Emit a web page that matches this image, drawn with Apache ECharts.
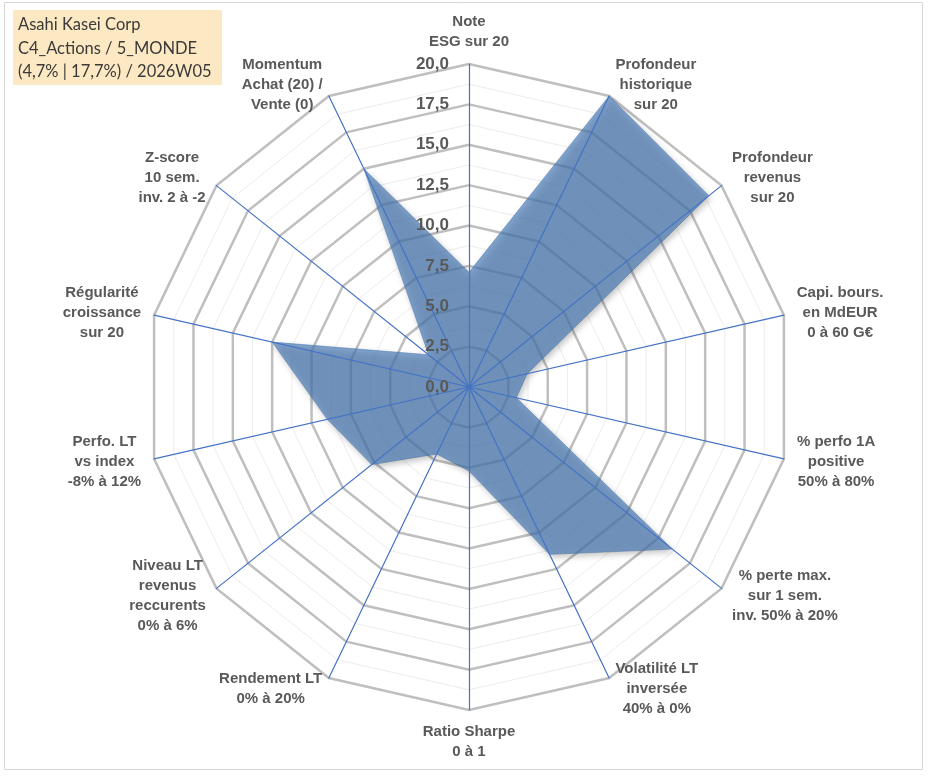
<!DOCTYPE html>
<html>
<head>
<meta charset="utf-8">
<script src="https://cdn.jsdelivr.net/npm/echarts@6/dist/echarts.min.js"></script>
<style>
html, body { margin: 0; padding: 0; background: #fff; }
#chart { width: 933px; height: 776px; }
</style>
</head>
<body>
<div id="chart"></div>
<script>
// axes, clockwise from the top
var axisNames = [
    'Note\nESG sur 20',
    'Profondeur\nhistorique\nsur 20',
    'Profondeur\nrevenus\nsur 20',
    'Capi. bours.\nen MdEUR\n0 à 60 G€',
    '% perfo 1A\npositive\n50% à 80%',
    '% perte max.\nsur 1 sem.\ninv. 50% à 20%',
    'Volatilité LT\ninversée\n40% à 0%',
    'Ratio Sharpe\n0 à 1',
    'Rendement LT\n0% à 20%',
    'Niveau LT\nrevenus\nreccurents\n0% à 6%',
    'Perfo. LT\nvs index\n-8% à 12%',
    'Régularité\ncroissance\nsur 20',
    'Z-score\n10 sem.\ninv. 2 à -2',
    'Momentum\nAchat (20) /\nVente (0)'
];
var scores = [7.1, 20, 19.0, 3.7, 3.0, 16.1, 11.5, 5.2, 4.6, 7.7, 9.0, 12.5, 3.2, 15.0];
var titleLines = ['Asahi Kasei Corp', 'C4_Actions / 5_MONDE', '(4,7% | 17,7%) / 2026W05'];
var scaleMin = 0, scaleMax = 20, scaleStep = 2.5;

var chart = echarts.init(document.getElementById('chart'));

// echarts radar runs counter-clockwise, so keep the first axis and reverse the rest
var order = [0];
for (var i = axisNames.length - 1; i > 0; i--) order.push(i);

var sansFamily = 'Liberation Sans';
var ctx = document.createElement('canvas').getContext('2d');
ctx.font = 'bold 15px "' + sansFamily + '"';
var rich = {};
var indicators = order.map(function (k) {
    var w = 0;
    axisNames[k].split('\n').forEach(function (l) { w = Math.max(w, ctx.measureText(l).width); });
    rich['w' + k] = {
        width: Math.ceil(w) + 2, align: 'center', lineHeight: 20,
        fontSize: 15, fontWeight: 'bold', color: '#595959', fontFamily: sansFamily
    };
    return { name: axisNames[k], min: scaleMin, max: scaleMax, key: k };
});
var values = order.map(function (k) { return scores[k]; });

var center = [469, 387];
var radius = 323;
var fmt = function (v) { return v.toFixed(1).replace('.', ','); };

option = {
    backgroundColor: '#fff',
    animation: false,
    graphic: [
        { type: 'rect', shape: { x: 4.5, y: 2.5, width: 918, height: 767 },
          style: { fill: 'none', stroke: '#d6d6d6', lineWidth: 1 } },
        { type: 'rect', shape: { x: 13, y: 10, width: 209, height: 75 },
          style: { fill: '#fce8c2' } },
        { type: 'text', left: 18, top: 13,
          style: { text: titleLines.join('\n'), fill: '#3a3a3a', lineHeight: 23.5,
                   font: '16.5px Lato, "Open Sans", sans-serif' } }
    ],
    polar: { center: center, radius: radius },
    angleAxis: { type: 'value', startAngle: 90, min: 0, max: 360, show: false },
    radiusAxis: {
        type: 'value', min: scaleMin, max: scaleMax, interval: scaleStep, z: 10,
        axisLine: { show: false }, axisTick: { show: false }, splitLine: { show: false },
        axisLabel: {
            formatter: fmt, margin: 20, color: '#595959', fontSize: 17, fontWeight: 'bold',
            fontFamily: sansFamily
        }
    },
    radar: [
        {
            center: center, radius: radius, startAngle: 90, shape: 'polygon',
            splitNumber: 16, indicator: indicators, nameGap: 12,
            axisName: {
                formatter: function (name, ind) {
                    return name.split('\n').map(function (l) {
                        return '{w' + ind.key + '|' + l + '}';
                    }).join('\n');
                },
                fontFamily: sansFamily,
                rich: rich
            },
            splitLine: { lineStyle: { color: '#ececec', width: 1 } },
            splitArea: { show: false },
            axisLine: { show: false },
            axisTick: { show: false }
        },
        {
            center: center, radius: radius, startAngle: 90, shape: 'polygon',
            splitNumber: 8, indicator: indicators,
            axisName: { show: false },
            splitLine: { lineStyle: { color: '#bfbfbf', width: 2.5 } },
            splitArea: { show: false },
            axisLine: { show: false }
        },
        {
            center: center, radius: radius, startAngle: 90, shape: 'polygon', z: 5,
            splitNumber: 8, indicator: indicators,
            axisName: { show: false },
            splitLine: { show: false },
            splitArea: { show: false },
            axisLine: { lineStyle: { color: '#4472c4', width: 1.2 } }
        }
    ],
    series: [
        {
            name: 'Asahi Kasei Corp',
            type: 'radar',
            radarIndex: 0,
            symbol: 'none',
            lineStyle: { width: 0.6, color: 'rgba(72,122,182,0.8)' },
            areaStyle: {
                color: 'rgb(72,122,182)',
                opacity: 0.68,
                shadowColor: 'rgba(0,0,0,0.35)', shadowBlur: 6,
                shadowOffsetX: 2, shadowOffsetY: 3
            },
            data: [{ value: values, name: 'Asahi Kasei Corp' }]
        }
    ]
};
if (option && typeof option === "object") {
    chart.setOption(option, true);
}
</script>
</body>
</html>
